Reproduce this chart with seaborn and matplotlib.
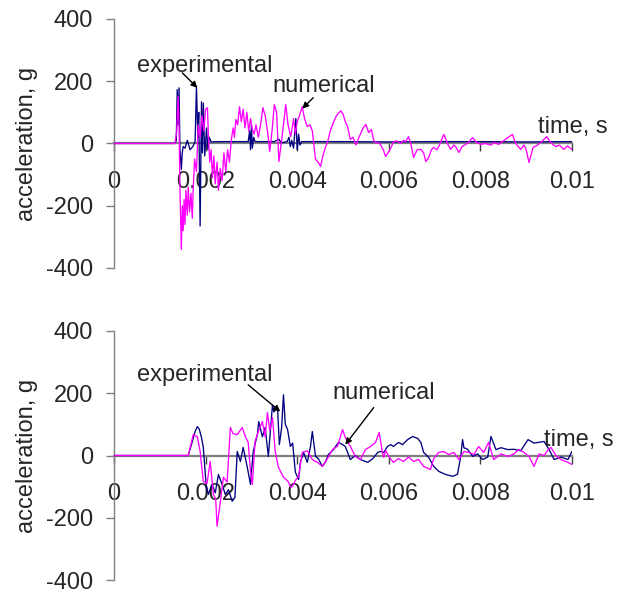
import matplotlib
matplotlib.use("Agg")
import matplotlib.pyplot as plt
import pandas as pd
import seaborn as sns

# ---- data (time in ms, acceleration in g) ----
top_exp_t = [0, 1.33, 1.36, 1.38, 1.40, 1.42, 1.44, 1.47, 1.49, 1.51, 1.55, 1.60, 1.66,
             1.72, 1.77, 1.80, 1.83, 1.85, 1.88, 1.91, 1.93, 1.95, 1.98, 2.02, 2.05, 2.08,
             2.12, 2.30, 2.60, 2.93, 2.96, 2.98, 3.00, 3.02, 3.05, 3.08, 3.50, 3.60, 3.65,
             3.78, 3.82, 3.85, 3.88, 3.92, 3.97, 4.00, 4.03, 4.06, 4.10, 5.00, 6.00, 7.00,
             8.00, 9.00, 10.0]
top_exp_a = [0, 0, 10, 173, 60, 179, -20, -83, -30, -10, -15, 10, -20,
             -10, 5, 182, 20, 100, -265, 134, -30, 130, -40, 50, -20, 20,
             5, 6, 6, 6, 40, -20, 60, -15, 20, 6, 6, 14, 2,
             6, 20, -10, 10, -15, 80, -20, 30, -5, 6, 6, 5, 6,
             6, 5, 6]

top_num_t = [0, 1.33, 1.37, 1.40, 1.42, 1.44, 1.47, 1.49, 1.51, 1.53, 1.55, 1.57, 1.60,
             1.62, 1.65, 1.68, 1.71, 1.73, 1.76, 1.80, 1.84, 1.88, 1.92, 1.96, 2.00, 2.04,
             2.06, 2.09, 2.12, 2.15, 2.18, 2.21, 2.25, 2.28, 2.32, 2.36, 2.40, 2.44, 2.48,
             2.52, 2.56, 2.60, 2.63, 2.66, 2.70, 2.74, 2.78, 2.82, 2.86, 2.90, 2.94, 2.98,
             3.02, 3.06, 3.10, 3.15, 3.20, 3.25, 3.30, 3.36, 3.40, 3.45, 3.50, 3.55, 3.60,
             3.66, 3.75, 3.80, 3.86, 3.92, 3.96, 4.00, 4.05, 4.11, 4.16, 4.22, 4.28, 4.33,
             4.40, 4.46, 4.51, 4.56, 4.62, 4.66, 4.72, 4.79, 4.86, 4.95, 5.00, 5.05, 5.10,
             5.16, 5.22, 5.28, 5.32, 5.38, 5.44, 5.50, 5.56, 5.62, 5.67, 5.71, 5.80, 5.88,
             5.93, 6.00, 6.06, 6.10, 6.18, 6.26, 6.32, 6.37, 6.43, 6.48, 6.54, 6.62, 6.70,
             6.76, 6.81, 6.87, 6.93, 6.98, 7.05, 7.09, 7.20, 7.28, 7.35, 7.42, 7.46, 7.53,
             7.60, 7.68, 7.75, 7.83, 7.90, 8.01, 8.10, 8.23, 8.30, 8.40, 8.45, 8.60, 8.70,
             8.77, 8.88, 8.95, 9.00, 9.06, 9.15, 9.25, 9.33, 9.45, 9.50, 9.58, 9.65, 9.72,
             9.82, 9.90, 10.0]
top_num_a = [0, 0, 40, 150, 60, -150, -340, -200, -280, -180, -260, -150, -230,
             -140, -220, -160, -240, -140, -50, -90, 60, 20, 90, 40, 110, 115,
             30, -60, -20, -110, -40, -130, -60, -150, -80, -120, -30, -90, -20,
             -60, 10, 50, 20, 77, 60, 118, 70, 110, 50, 100, 40, 80,
             45, 30, 60, 20, 60, 115, 90, 30, -26, 40, 125, 100, -58,
             10, 125, 60, 22, 80, 30, 70, 90, 118, 80, 54, 60, 40,
             -51, -60, -74, -40, -10, 3, 40, 67, 90, 105, 95, 70, 54,
             13, 20, -5, 10, 30, 50, 61, 35, 45, 10, 3, 0, -20,
             -42, -26, -10, 6, 8, 0, 10, 6, 22, 0, -45, -20, -19,
             -30, -58, -45, -20, -13, -20, -10, 29, 0, -19, -5, -10, -29,
             -10, -3, 5, 19, 5, -3, 0, -5, 3, -3, 3, 19, 29,
             0, -19, -5, -20, -61, -13, -5, 5, 22, 10, -3, -10, -5,
             -19, -8, -19]

bot_exp_t = [0, 1.62, 1.70, 1.77, 1.82, 1.86, 1.91, 1.95, 2.01, 2.06, 2.14, 2.21, 2.28,
             2.36, 2.43, 2.50, 2.58, 2.64, 2.69, 2.76, 2.82, 2.91, 2.98, 3.04, 3.13, 3.16,
             3.24, 3.30, 3.37, 3.46, 3.49, 3.57, 3.61, 3.66, 3.70, 3.74, 3.79, 3.85, 3.90,
             3.96, 4.03, 4.07, 4.14, 4.22, 4.29, 4.33, 4.40, 4.46, 4.55, 4.62, 4.68, 4.79,
             4.90, 4.99, 5.05, 5.16, 5.27, 5.38, 5.54, 5.65, 5.76, 5.82, 5.89, 5.97, 6.04,
             6.10, 6.21, 6.30, 6.41, 6.52, 6.63, 6.70, 6.76, 6.87, 6.98, 7.09, 7.24, 7.40,
             7.50, 7.57, 7.61, 7.64, 7.72, 7.83, 7.94, 8.05, 8.16, 8.23, 8.34, 8.45, 8.60,
             8.73, 8.88, 9.04, 9.17, 9.39, 9.50, 9.61, 9.76, 9.91, 10.0]
bot_exp_a = [0, 0, 40, 77, 93, 85, 58, 26, -93, -125, -93, -120, -61,
             -93, -125, -110, -147, -135, 13, -19, 26, -38, -93, 13, 67, 109,
             60, 90, -3, 163, 140, 154, 35, 90, 195, 100, 83, 29, 40,
             -54, -77, -22, 10, -22, 29, 77, -3, -10, -35, -20, 3, 19,
             42, 35, 29, -13, 0, -13, -22, -10, 10, 13, 10, 29, 35,
             29, 42, 35, 51, 61, 55, 42, 10, -6, -35, -51, -61, -67,
             -60, -3, 51, 25, 20, -3, 5, -13, -5, 61, 19, 25, 19,
             20, 15, 51, 40, 45, 19, -13, -5, -13, 13]

bot_num_t = [0, 1.62, 1.73, 1.82, 1.88, 1.95, 2.03, 2.10, 2.17, 2.22, 2.25, 2.32, 2.39,
             2.47, 2.54, 2.60, 2.69, 2.80, 2.87, 2.93, 2.98, 3.02, 3.08, 3.15, 3.24, 3.30,
             3.35, 3.40, 3.46, 3.52, 3.59, 3.70, 3.80, 3.86, 3.90, 3.96, 4.03, 4.11, 4.22,
             4.33, 4.44, 4.55, 4.66, 4.77, 4.88, 4.99, 5.05, 5.16, 5.27, 5.38, 5.49, 5.60,
             5.71, 5.79, 5.86, 5.89, 5.93, 6.00, 6.10, 6.21, 6.32, 6.43, 6.54, 6.65, 6.76,
             6.91, 6.98, 7.09, 7.20, 7.31, 7.42, 7.53, 7.64, 7.75, 7.86, 7.96, 8.07, 8.18,
             8.29, 8.45, 8.60, 8.73, 8.84, 8.95, 9.06, 9.17, 9.28, 9.39, 9.48, 9.54, 9.65,
             9.76, 9.91, 10.0]
bot_num_a = [0, 0, 67, 60, 13, -83, -90, -19, -125, -140, -227, -150, -70,
             -85, 90, 70, 67, 90, 60, 42, -51, -93, 45, 77, 109, 60,
             138, 80, 122, 13, -38, -70, -83, -102, -99, -80, -67, 10, 15,
             -13, -22, -35, -10, 19, 30, 83, 58, 29, -3, -13, 19, 29,
             42, 74, 10, -6, 16, -3, -22, -10, -19, -5, -19, -13, -35,
             -45, -10, 10, 13, 3, 10, -13, 13, 10, 3, 29, 10, 42,
             -13, 5, -3, 5, 19, 10, -3, -35, 5, 0, 19, 26, 0,
             -13, -22, -29]

x_ticks = [0, 0.002, 0.004, 0.006, 0.008, 0.01]
x_tick_labels = ["0", "0.002", "0.004", "0.006", "0.008", "0.01"]
y_ticks = [-400, -200, 0, 200, 400]
y_tick_labels = ["-400", "-200", "0", "200", "400"]

EXP_COLOR = "#000080"
NUM_COLOR = "#FF00FF"
AXIS_GREY = "#808080"
FS = 17

sns.set_style("ticks")
plt.rcParams["font.family"] = ["Liberation Sans", "DejaVu Sans"]

fig = plt.figure(figsize=(6.21, 5.95), dpi=100)
ax_top = fig.add_axes([0.1836, 0.5496, 0.7375, 0.4185])
ax_bot = fig.add_axes([0.1836, 0.0252, 0.7375, 0.4185])


def series_frame(t_ms, acc):
    return pd.DataFrame({"time": [v * 1e-3 for v in t_ms], "acc": acc})


def draw_panel(ax, exp_t, exp_a, num_t, num_a):
    sns.lineplot(data=series_frame(exp_t, exp_a), x="time", y="acc", ax=ax,
                 color=EXP_COLOR, lw=0.95, estimator=None, sort=False, zorder=3)
    sns.lineplot(data=series_frame(num_t, num_a), x="time", y="acc", ax=ax,
                 color=NUM_COLOR, lw=0.95, estimator=None, sort=False, zorder=3)
    ax.set_xlim(0, 0.01)
    ax.set_ylim(-400, 400)
    ax.set_xlabel("")
    ax.set_ylabel("acceleration, g", fontsize=FS, labelpad=6)
    ax.set_xticks(x_ticks)
    ax.set_xticklabels(x_tick_labels)
    ax.set_yticks(y_ticks)
    ax.set_yticklabels(y_tick_labels)
    ax.spines["top"].set_visible(False)
    ax.spines["right"].set_visible(False)
    ax.spines["bottom"].set_position(("data", 0))
    ax.spines["bottom"].set_color(AXIS_GREY)
    ax.spines["bottom"].set_linewidth(1.6)
    ax.spines["left"].set_color(AXIS_GREY)
    ax.spines["left"].set_linewidth(1.0)
    ax.spines["bottom"].set_zorder(1)
    ax.spines["left"].set_zorder(1)
    ax.tick_params(axis="x", direction="out", length=6, width=1, color="#404040",
                   labelsize=FS, pad=14)
    ax.tick_params(axis="y", direction="out", length=6, width=1, color=AXIS_GREY,
                   labelsize=FS, pad=9)
    ax.patch.set_alpha(0)


draw_panel(ax_top, top_exp_t, top_exp_a, top_num_t, top_num_a)
draw_panel(ax_bot, bot_exp_t, bot_exp_a, bot_num_t, bot_num_a)

arrow = dict(arrowstyle="-|>", color="black", lw=1.0, mutation_scale=9,
             shrinkA=0, shrinkB=0)


def label(ax, text, text_xy, start_xy, tip_xy):
    ax.text(text_xy[0], text_xy[1], text, fontsize=FS, ha="center", va="center")
    ax.annotate("", xy=tip_xy, xytext=start_xy, arrowprops=arrow)


label(ax_top, "experimental", (0.00199, 250), (0.00149, 227), (0.00182, 179))
label(ax_top, "numerical", (0.00457, 186), (0.00435, 147), (0.00411, 112))
ax_top.text(0.00926, 54, "time, s", fontsize=FS, ha="left", va="center", clip_on=False)

label(ax_bot, "experimental", (0.00199, 259), (0.00293, 227), (0.00363, 141))
label(ax_bot, "numerical", (0.00589, 202), (0.00567, 154), (0.00505, 35))
ax_bot.text(0.00939, 51, "time, s", fontsize=FS, ha="left", va="center", clip_on=False)

fig.savefig("out.png", dpi=100)
